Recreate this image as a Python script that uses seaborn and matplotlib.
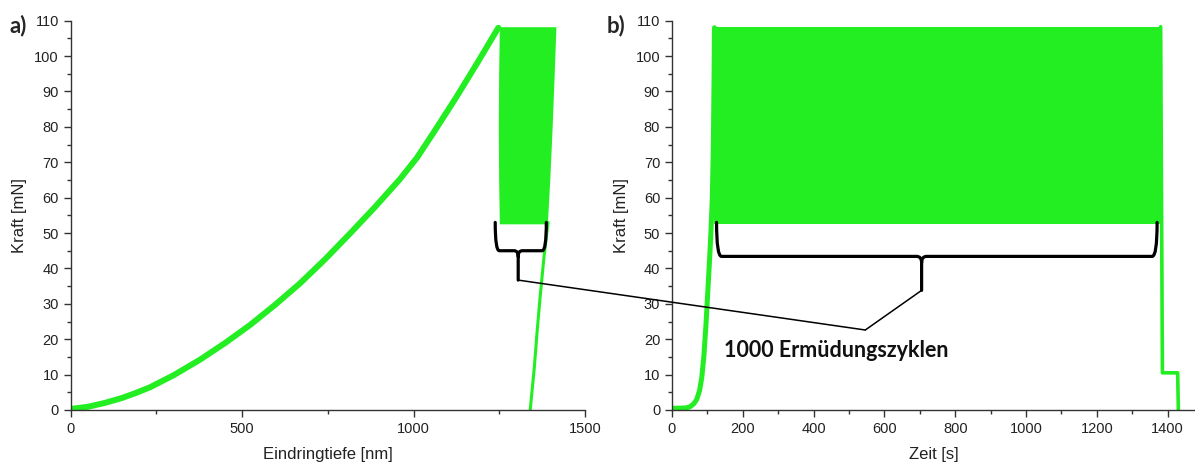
import numpy as np
import pandas as pd
import seaborn as sns
import matplotlib.pyplot as plt
from matplotlib.path import Path
from matplotlib.patches import PathPatch, ConnectionPatch

sns.set_style("ticks")
plt.rcParams['font.family'] = ['Liberation Sans', 'DejaVu Sans']

GRUEN = "#22ee22"

# a) Belastungskurve Kraft ueber Eindringtiefe
tiefe_last = [0, 50, 100, 150, 190, 231, 300, 377, 450, 523, 596, 669, 742, 815, 888, 960,
              1010, 1057, 1124, 1186, 1247]
kraft_last = [0.3, 0.9, 2.0, 3.4, 4.8, 6.4, 9.8, 14.2, 18.9, 24, 29.7, 35.8, 42.6, 49.9, 57.4, 65.2,
              71.3, 78.2, 88.3, 98.1, 108]

# Zyklenband in a): Kraftniveaus und linke/rechte Grenze
band_kraft = [52.6, 65, 80, 95, 108.3]
band_links = [1250, 1248, 1247, 1248, 1250]
band_rechts = [1390, 1397, 1404, 1410, 1415]

# Entlastung in a)
tiefe_ent = [1392, 1380, 1369, 1360, 1352, 1346, 1340]
kraft_ent = [53, 43, 32, 22, 12, 6, 0]

# b) Kraft ueber Zeit
zeit_last = [0, 20, 40, 51, 62, 70, 78, 84, 90, 96, 101, 106, 110, 114, 117, 119, 120]
kraft_zeit = [0.5, 0.5, 0.6, 0.9, 1.8, 3, 5.5, 9, 15, 24, 33, 42, 50, 60, 75, 95, 108]
zeit_zyklen = [120, 1378]
kraft_min, kraft_max = 52.6, 108.3
zeit_ende = [1380, 1385, 1428, 1430]
kraft_ende = [108.3, 10.5, 10.5, 0]

# Klammern: (links, rechts, oben, Balken, Spitze, Mitte)
klammer_a = (1238, 1387, 53, 45, 36.7, 1305)
klammer_b = (126, 1370, 53, 43.4, 33.8, 705)
knick_b = (546, 22.6)

df_last = pd.DataFrame({"x": tiefe_last, "y": kraft_last})
df_ent = pd.DataFrame({"x": tiefe_ent, "y": kraft_ent})
df_zeit = pd.DataFrame({"x": zeit_last, "y": kraft_zeit})
df_ende = pd.DataFrame({"x": zeit_ende, "y": kraft_ende})


def klammer(ax, k, dx, dy):
    x0, x1, top, bar, tip, xm = k
    verts = [(x0, top), (x0, bar), (x0 + dx, bar), (xm - dx, bar), (xm, bar), (xm, bar - dy), (xm, tip),
             (xm, bar - dy), (xm, bar), (xm + dx, bar), (x1 - dx, bar), (x1, bar), (x1, top)]
    codes = [Path.MOVETO, Path.CURVE3, Path.CURVE3, Path.LINETO, Path.CURVE3, Path.CURVE3, Path.LINETO,
             Path.MOVETO, Path.CURVE3, Path.CURVE3, Path.LINETO, Path.CURVE3, Path.CURVE3]
    ax.add_patch(PathPatch(Path(verts, codes), fill=False, lw=2.3, color="black",
                           capstyle="round", joinstyle="round", zorder=5))


fig = plt.figure(figsize=(11.95, 4.66), dpi=100)
ax1 = fig.add_axes([0.0591, 0.1202, 0.4305, 0.8354])
ax2 = fig.add_axes([0.5623, 0.1202, 0.4377, 0.8354])

sns.lineplot(data=df_last, x="x", y="y", ax=ax1, color=GRUEN, lw=4.3, sort=False)
ax1.fill_betweenx(band_kraft, band_links, band_rechts, color=GRUEN, lw=0)
sns.lineplot(data=df_ent, x="x", y="y", ax=ax1, color=GRUEN, lw=2.2, sort=False)

sns.lineplot(data=df_zeit, x="x", y="y", ax=ax2, color=GRUEN, lw=3.6, sort=False)
ax2.fill_between(zeit_zyklen, kraft_min, kraft_max, color=GRUEN, lw=0)
sns.lineplot(data=df_ende, x="x", y="y", ax=ax2, color=GRUEN, lw=2.6, sort=False)

for ax, xmax, major, xl in [(ax1, 1500, 500, "Eindringtiefe [nm]"), (ax2, 1477, 200, "Zeit [s]")]:
    ax.set_xlim(0, xmax)
    ax.set_ylim(0, 110)
    ax.set_xticks(np.arange(0, xmax + 1, major))
    ax.set_xticks(np.arange(major / 2, xmax, major), minor=True)
    ax.set_yticks(np.arange(0, 111, 10))
    ax.set_yticks(np.arange(5, 110, 10), minor=True)
    ax.tick_params(which="major", length=5, width=1, colors="#333333", labelsize=10.5, labelcolor="#222222")
    ax.tick_params(which="minor", length=3, width=1, colors="#333333")
    ax.set_xlabel(xl, fontsize=12, color="#222222", labelpad=8)
    ax.set_ylabel("Kraft [mN]", fontsize=12, color="#222222", labelpad=5)
    for s in ["top", "right"]:
        ax.spines[s].set_visible(False)
    for s in ["left", "bottom"]:
        ax.spines[s].set_color("#333333")
        ax.spines[s].set_linewidth(1)

klammer(ax1, klammer_a, 12, 1.6)
klammer(ax2, klammer_b, 14, 1.8)

ax2.plot([knick_b[0], klammer_b[5]], [knick_b[1], klammer_b[4]], color="black", lw=1.1, zorder=5)
con = ConnectionPatch(xyA=(klammer_a[5], klammer_a[4]), coordsA=ax1.transData,
                      xyB=knick_b, coordsB=ax2.transData, color="black", lw=1.1, zorder=6)
fig.add_artist(con)

ax2.text(148, 16.9, "1000 Ermüdungszyklen", fontsize=15.5, fontweight="bold",
         family=["Lato", "DejaVu Sans"], va="center", ha="left", color="#111111")

fig.text(9 / 1195, 1 - 26 / 466, "a)", fontsize=16, fontweight="bold", family=["Lato", "DejaVu Sans"],
         va="center", ha="left")
fig.text(607 / 1195, 1 - 26 / 466, "b)", fontsize=16, fontweight="bold", family=["Lato", "DejaVu Sans"],
         va="center", ha="left")

fig.savefig("out.png", dpi=100)
